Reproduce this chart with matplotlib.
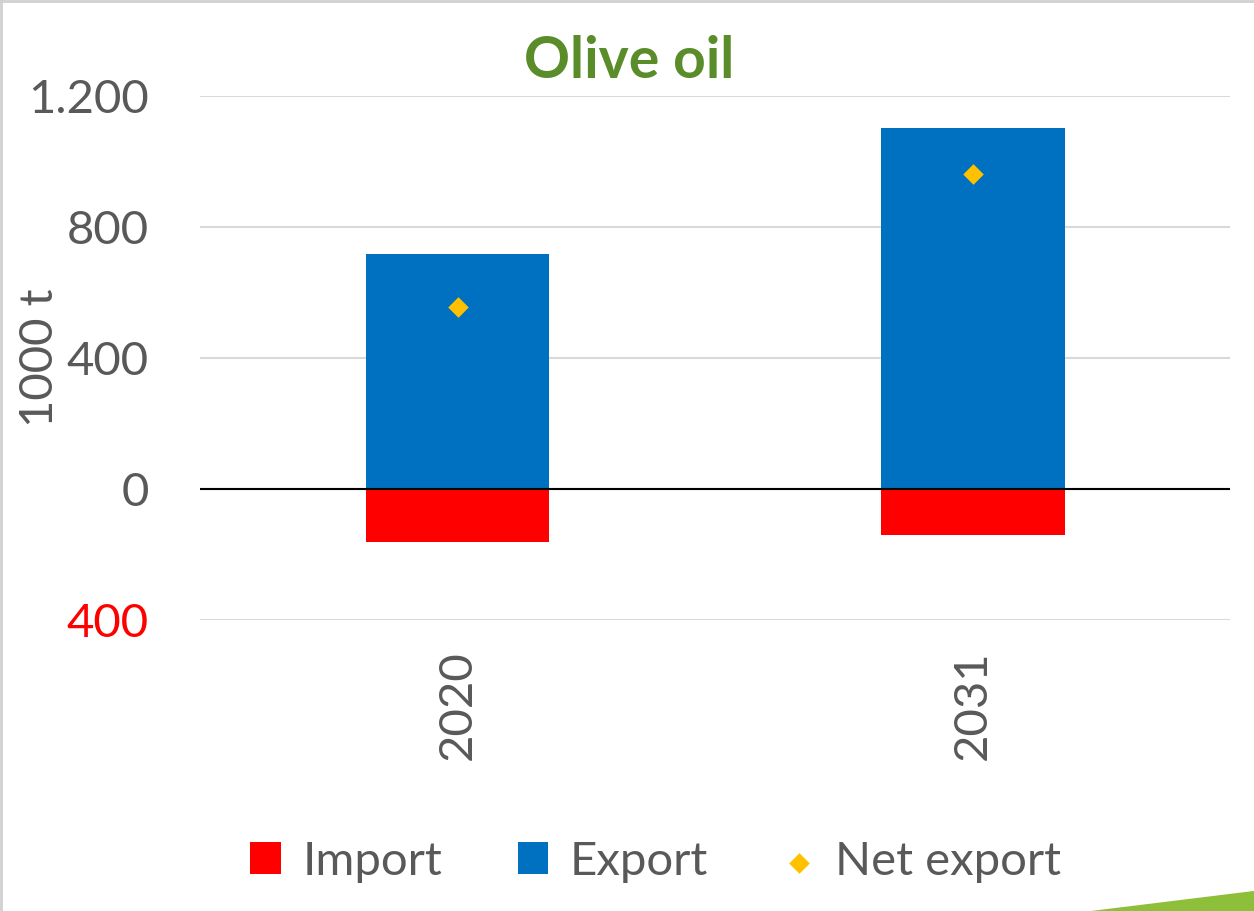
import numpy as np
import matplotlib.pyplot as plt
from matplotlib.patches import Polygon

plt.rcParams['font.family'] = ['Lato', 'DejaVu Sans']

years = ["2020", "2031"]
imports = [162, 140]
exports = [717, 1102]
net_export = [556, 962]
yticks = [-400, 0, 400, 800, 1200]

GREY = "#595959"
BLUE = "#0070C0"
RED = "#FF0000"
GOLD = "#FFC000"


def fmt(v):
    # excel-style format: dot thousands, negatives shown red without sign
    return f"{abs(v):,}".replace(",", ".")


def main():
    fig = plt.figure(figsize=(12.54, 9.11), dpi=100)
    ax = fig.add_axes([0.1595, 0.3194, 0.8215, 0.5752])

    x = np.arange(len(years))
    w = 0.357
    h_imp = ax.bar(x, [-v for v in imports], width=w, color=RED, label="Import", zorder=2)
    h_exp = ax.bar(x, exports, width=w, color=BLUE, label="Export", zorder=2)
    h_net = ax.scatter(x, net_export, marker="D", s=110, color=GOLD, label="Net export",
                       zorder=3, linewidths=0)

    ax.set_xlim(-0.5, 1.5)
    ax.set_ylim(-400, 1200)
    ax.set_yticks(yticks)
    ax.set_yticklabels([fmt(v) for v in yticks])
    for lab, v in zip(ax.get_yticklabels(), yticks):
        lab.set_color(RED if v < 0 else GREY)
    ax.tick_params(axis="y", length=0, labelsize=34, pad=37)
    ax.set_xticks(x)
    ax.set_xticklabels(years, rotation=90, fontsize=34, color=GREY)
    ax.tick_params(axis="x", length=0, pad=22)

    ax.grid(axis="y", color="#D9D9D9", linewidth=1.5, zorder=0)
    ax.axhline(0, color="black", linewidth=1.5, zorder=4)
    for s in ax.spines.values():
        s.set_visible(False)

    ax.set_ylabel("1000 t", fontsize=34, color=GREY)
    ax.yaxis.set_label_coords(-0.135, 0.5)

    fig.text(0.502, 0.932, "Olive oil", ha="center", va="center", fontsize=41,
             fontweight="bold", color="#5B8C2A")

    fig.legend([h_imp, h_exp, h_net], ["Import", "Export", "Net export"], loc="center",
               bbox_to_anchor=(0.523, 0.054), ncol=3, frameon=False, fontsize=34,
               labelcolor=GREY, handlelength=0.65, handleheight=0.65, columnspacing=1.6,
               handletextpad=0.45)

    # slide border and green swoosh
    fig.add_artist(plt.Line2D([0.001, 0.001], [0, 1], color="#D0D0D0", linewidth=2,
                              transform=fig.transFigure))
    fig.add_artist(plt.Line2D([0, 1], [0.999, 0.999], color="#D0D0D0", linewidth=2,
                              transform=fig.transFigure))
    fig.add_artist(Polygon([(0.87, 0.0), (1.0, 0.022), (1.0, 0.0)], closed=True,
                           facecolor="#8DBF3A", edgecolor="none", transform=fig.transFigure))

    fig.savefig("out.png", dpi=100)


if __name__ == "__main__":
    main()
